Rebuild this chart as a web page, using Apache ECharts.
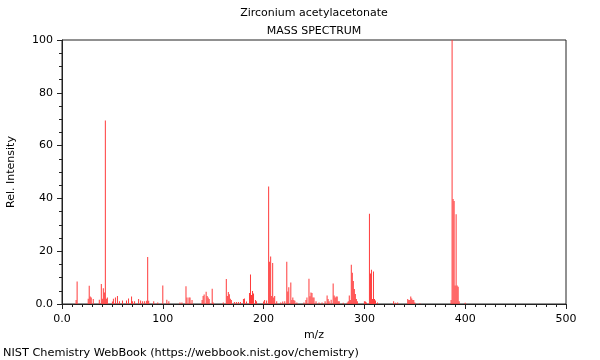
<!DOCTYPE html>
<html><head><meta charset="utf-8">
<script src="https://cdn.jsdelivr.net/npm/echarts@6/dist/echarts.min.js"></script>
<style>html,body{margin:0;padding:0;background:#fff}#c{width:600px;height:360px}</style>
</head><body><div id="c"></div>
<script>
const chartTitle = 'Zirconium acetylacetonate';
const chartSubtitle = 'MASS SPECTRUM';
const footerText = 'NIST Chemistry WebBook (https://webbook.nist.gov/chemistry)';
const xTicks = [0, 100, 200, 300, 400, 500];
const yTicks = [0, 20, 40, 60, 80, 100];
const mz = [14,15,26,27,28,29,31,37,39,40,41,42,43,44,45,50,51,53,55,57,60,64,66,69,70,72,76,78,80,82,84,85,86,91,95,
  100,104,106,117,119,123,124,126,127,129,139,140,141,143,144,145,146,149,150,160,163,164,165,166,167,168,171,173,175,177,
  180,181,183,186,187,188,189,190,192,193,200,201,203,205,206,207,208,209,210,211,213,217,219,221,223,224,225,227,228,229,230,231,233,
  240,242,243,245,246,247,248,249,250,252,255,258,261,263,264,265,267,269,270,271,272,273,274,275,279,283,284,285,286,287,288,289,290,291,292,293,
  300,301,302,305,306,307,308,309,310,311,313,329,331,333,343,344,345,346,347,348,349,350,355,386,387,388,389,390,391,392,393,394,400];
const intensity = [1.5,8.5,2,6.9,2.8,2.5,1.9,1.6,7.6,2,6,4.4,69.5,2,2.5,0.9,2,2.5,3,1,1.3,1.3,2.1,2.8,1,1,1.9,1.3,1,1,1.2,17.8,1.2,1,0.6,
  7,1.6,1,0.6,0.6,6.7,2.5,2.5,2.5,1.5,1.5,3,3.6,4.6,3,2.5,1.9,5.8,0.6,0.6,9.5,3,4.5,3.7,2,1.5,0.8,0.8,0.8,0.8,
  1.9,2.1,0.9,4.2,11.2,3.4,4.9,4,1.5,1,0.9,1.5,1.3,44.5,16,18,3,15.5,2.5,3,1,0.6,0.9,1,16,4.7,6.3,8.1,1.5,2.5,1.5,1.2,0.6,
  0.6,1.5,2.5,9.6,2.9,4.4,4.2,2.5,2.5,1,0.6,0.6,1,3.2,1.9,1,1.6,7.8,3.2,2.5,2.8,2.8,1,1,0.5,0.6,1,3.2,1.5,14.9,11.8,8.7,5.7,3.8,1.9,1,
  1,0.9,0.6,34.2,11.6,13,1.9,12.3,1.9,1.3,0.6,1,0.5,0.6,1.9,1.5,1.5,2.8,2.1,1.5,1.5,0.6,0.3,1.5,100,39.8,39,7,34,7,6.5,1,0.5];

const font = 'DejaVu Sans';
const fmt = v => (v === 0 ? '0.0' : String(v));
const chart = echarts.init(document.getElementById('c'), null, {renderer: 'canvas'});
chart.setOption({
  animation: false,
  backgroundColor: '#fff',
  textStyle: {fontFamily: font},
  grid: {left: 62, right: 34, top: 40, bottom: 56, containLabel: false, outerBoundsMode: 'none',
         show: true, borderColor: '#222', borderWidth: 1, backgroundColor: 'transparent'},
  graphic: [
    {type: 'text', x: 314, y: 13, style: {text: chartTitle, fontFamily: font, fontSize: 11, fill: '#000', textAlign: 'center', textVerticalAlign: 'middle'}},
    {type: 'text', x: 314, y: 31, style: {text: chartSubtitle, fontFamily: font, fontSize: 11, fill: '#000', textAlign: 'center', textVerticalAlign: 'middle'}},
    {type: 'text', x: 3, y: 353, style: {text: footerText, fontFamily: font, fontSize: 11.3, fill: '#000', textAlign: 'left', textVerticalAlign: 'middle'}}
  ],
  xAxis: {
    type: 'value', min: xTicks[0], max: xTicks[xTicks.length - 1], interval: xTicks[1] - xTicks[0],
    name: 'm/z', nameLocation: 'middle', nameGap: 23,
    nameTextStyle: {fontFamily: font, fontSize: 11, color: '#000'},
    axisLine: {show: true, lineStyle: {color: '#222'}},
    axisTick: {show: true, length: 5, lineStyle: {color: '#222'}},
    minorTick: {show: true, splitNumber: 10, length: 3, lineStyle: {color: '#222'}},
    splitLine: {show: false},
    axisLabel: {fontFamily: font, fontSize: 11, color: '#000', margin: 10, formatter: fmt}
  },
  yAxis: {
    type: 'value', min: yTicks[0], max: yTicks[yTicks.length - 1], interval: yTicks[1] - yTicks[0],
    name: 'Rel. Intensity', nameLocation: 'middle', nameGap: 45, nameRotate: 90,
    nameTextStyle: {fontFamily: font, fontSize: 11, color: '#000'},
    axisLine: {show: true, lineStyle: {color: '#222'}},
    axisTick: {show: true, length: 5, lineStyle: {color: '#222'}},
    minorTick: {show: true, splitNumber: 4, length: 3, lineStyle: {color: '#222'}},
    splitLine: {show: false},
    axisLabel: {fontFamily: font, fontSize: 11, color: '#000', margin: 9, formatter: fmt}
  },
  series: [{
    type: 'bar', barWidth: 1, barGap: '-100%',
    itemStyle: {color: '#ff3b3b'},
    data: mz.map((m, i) => [m, intensity[i]])
  }]
});
</script></body></html>
